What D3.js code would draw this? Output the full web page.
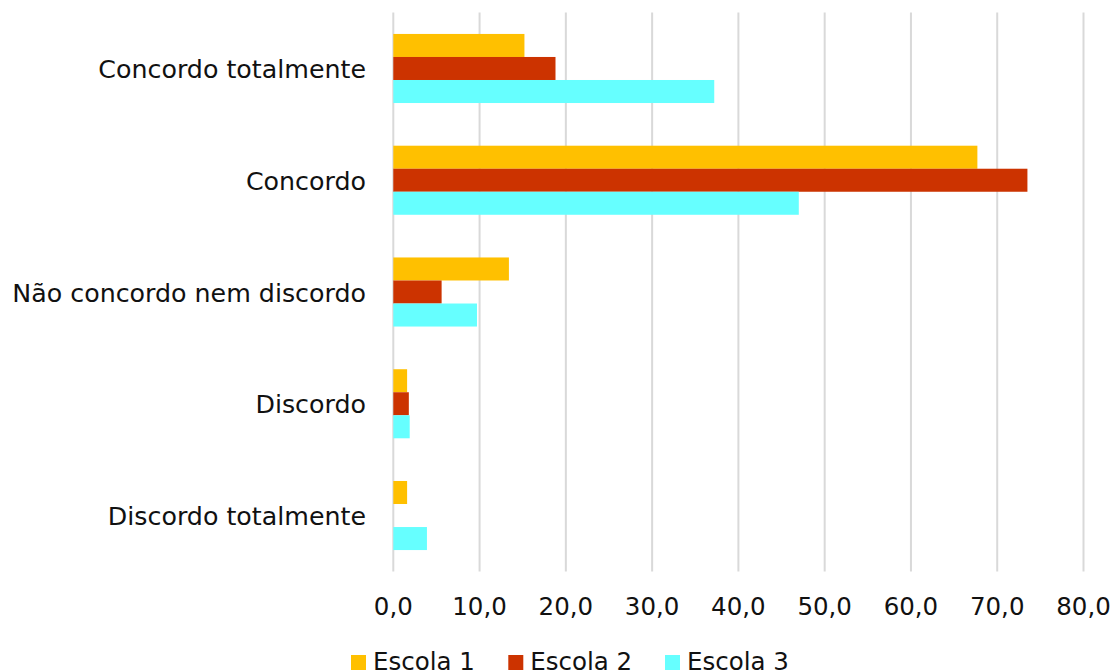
<!DOCTYPE html>
<html>
<head>
<meta charset="utf-8">
<script src="https://cdn.jsdelivr.net/npm/d3@7"></script>
<style>
  html, body { margin: 0; padding: 0; background: #fff; }
  svg { display: block; font-family: "DejaVu Sans", sans-serif; }
</style>
</head>
<body>
<svg id="chart" width="1115" height="671"></svg>
<script>
/* dados do gráfico */
const categorias = ["Concordo totalmente", "Concordo", "Não concordo nem discordo", "Discordo", "Discordo totalmente"];
const series = ["Escola 1", "Escola 2", "Escola 3"];
const escola1 = [15.2, 67.7, 13.4, 1.6, 1.6];
const escola2 = [18.8, 73.5, 5.6, 1.8, 0.0];
const escola3 = [37.2, 47.0, 9.7, 1.9, 3.9];
const ticks = [0, 10, 20, 30, 40, 50, 60, 70, 80];
const cores = ["#FFC000", "#CC3300", "#66FFFF"];

const valores = [escola1, escola2, escola3];
const svg = d3.select('#chart');
const m = { top: 12.6, left: 393.3, right: 1083.5, bottom: 571.4 };

const x = d3.scaleLinear().domain([0, 80]).range([m.left, m.right]);
const y = d3.scaleBand().domain(categorias).range([m.top, m.bottom]).paddingInner(0.382).paddingOuter(0.191);
const ySub = d3.scaleBand().domain(series).range([0, y.bandwidth()]);

/* grelha vertical */
svg.append('g').selectAll('line').data(ticks).join('line')
  .attr('x1', d => x(d)).attr('x2', d => x(d))
  .attr('y1', m.top).attr('y2', m.bottom)
  .attr('stroke', '#d9d9d9').attr('stroke-width', 2);

/* barras */
const grupos = svg.append('g').selectAll('g').data(categorias).join('g')
  .attr('transform', c => `translate(0,${y(c)})`);
grupos.selectAll('rect')
  .data((c, i) => series.map((s, j) => ({ s, v: valores[j][i], j })))
  .join('rect')
  .attr('x', x(0))
  .attr('y', d => ySub(d.s))
  .attr('width', d => x(d.v) - x(0))
  .attr('height', ySub.bandwidth())
  .attr('fill', d => cores[d.j]);

/* rótulos das categorias */
svg.append('g').selectAll('text').data(categorias).join('text')
  .attr('x', 366).attr('y', c => y(c) + y.bandwidth() / 2 + 9.5)
  .attr('text-anchor', 'end').attr('font-size', 25.3).attr('fill', '#111')
  .text(c => c);

/* eixo x */
const fmt = d => d.toFixed(1).replace('.', ',');
svg.append('g').selectAll('text').data(ticks).join('text')
  .attr('x', d => x(d)).attr('y', 615)
  .attr('text-anchor', 'middle').attr('font-size', 24.5).attr('fill', '#111')
  .text(fmt);

/* legenda */
const legX = [351, 508.3, 665];
const leg = svg.append('g').selectAll('g').data(series).join('g')
  .attr('transform', (s, i) => `translate(${legX[i]},655)`);
leg.append('rect').attr('width', 15).attr('height', 15).attr('fill', (s, i) => cores[i]);
leg.append('text').attr('x', 22).attr('y', 15).attr('font-size', 24.5).attr('fill', '#111').text(s => s);
</script>
</body>
</html>
